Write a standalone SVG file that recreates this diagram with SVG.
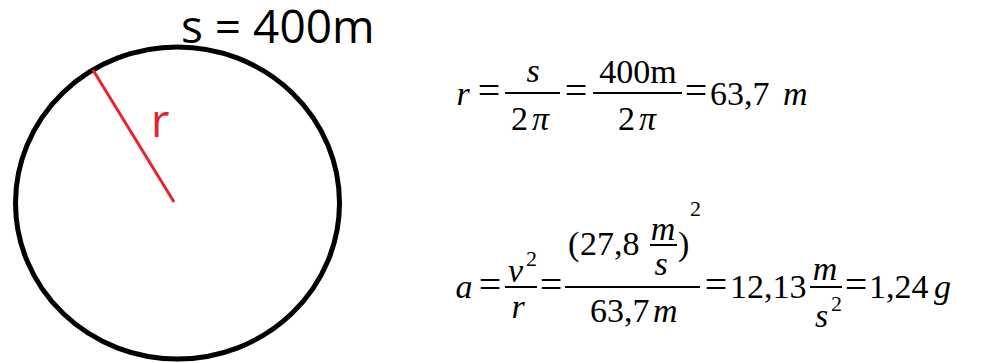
<svg xmlns="http://www.w3.org/2000/svg" width="1003" height="363" viewBox="0 0 1003 363">
<style>
.sans{font-family:"Open Sans","Noto Sans",sans-serif;}
.m text{font-family:"Liberation Serif","Times New Roman",serif;font-size:34px;fill:#000;}
.m text.s{font-size:22px;}
.m text.eq{font-size:40px;}
.i{font-style:italic;}
.bar{stroke:#000;stroke-width:2;}
</style>
<rect width="1003" height="363" fill="#fff"/>
<g id="circle">
<ellipse cx="177.5" cy="203" rx="162" ry="156" fill="none" stroke="#000" stroke-width="5"/>
<line x1="93" y1="70" x2="174" y2="202" stroke="#e8232b" stroke-width="3"/>
<text x="151" y="137" class="sans" font-size="45" fill="#e8232b">r</text>
<text x="181" y="43" class="sans" font-size="46" fill="#000">s = 400m</text>
</g>
<g id="eq1" class="m">
<text x="463" y="105" text-anchor="middle" class="i">r</text>
<text x="489" y="103.5" text-anchor="middle" class="eq">=</text>
<line x1="505" y1="93" x2="560" y2="93" class="bar"/>
<text x="533" y="82" text-anchor="middle" class="i">s</text>
<text x="530" y="130" text-anchor="middle">2<tspan dx="4" class="i">π</tspan></text>
<text x="576" y="103.5" text-anchor="middle" class="eq">=</text>
<line x1="593" y1="93" x2="682" y2="93" class="bar"/>
<text x="638" y="83" text-anchor="middle">400m</text>
<text x="637" y="130" text-anchor="middle">2<tspan dx="4" class="i">π</tspan></text>
<text x="696" y="103.5" text-anchor="middle" class="eq">=</text>
<text x="710" y="105">63,7</text>
<text x="783" y="105" class="i">m</text>
</g>
<g id="eq2" class="m">
<text x="464" y="298" text-anchor="middle" class="i">a</text>
<text x="490" y="297.5" text-anchor="middle" class="eq">=</text>
<line x1="505" y1="287" x2="537" y2="287" class="bar"/>
<text x="508" y="282" class="i">v</text>
<text x="526" y="266" class="s">2</text>
<text x="518" y="318" text-anchor="middle" class="i">r</text>
<text x="551" y="297.5" text-anchor="middle" class="eq">=</text>
<line x1="565" y1="287" x2="700" y2="287" class="bar"/>
<text x="568" y="255">(</text>
<text x="580" y="255">27,8</text>
<line x1="650" y1="245" x2="677" y2="245" class="bar"/>
<text x="663" y="240" text-anchor="middle" class="i">m</text>
<text x="661" y="275" text-anchor="middle" class="i">s</text>
<text x="678" y="255">)</text>
<text x="690" y="216" class="s">2</text>
<text x="590" y="322">63,7</text>
<text x="653" y="322" class="i">m</text>
<text x="716" y="297.5" text-anchor="middle" class="eq">=</text>
<text x="730" y="298">12,13</text>
<line x1="810" y1="287" x2="842" y2="287" class="bar"/>
<text x="825" y="280" text-anchor="middle" class="i">m</text>
<text x="815" y="327" class="i">s</text>
<text x="831" y="311" class="s">2</text>
<text x="856" y="297.5" text-anchor="middle" class="eq">=</text>
<text x="869" y="298">1,24</text>
<text x="934" y="298" class="i">g</text>
</g>
</svg>
